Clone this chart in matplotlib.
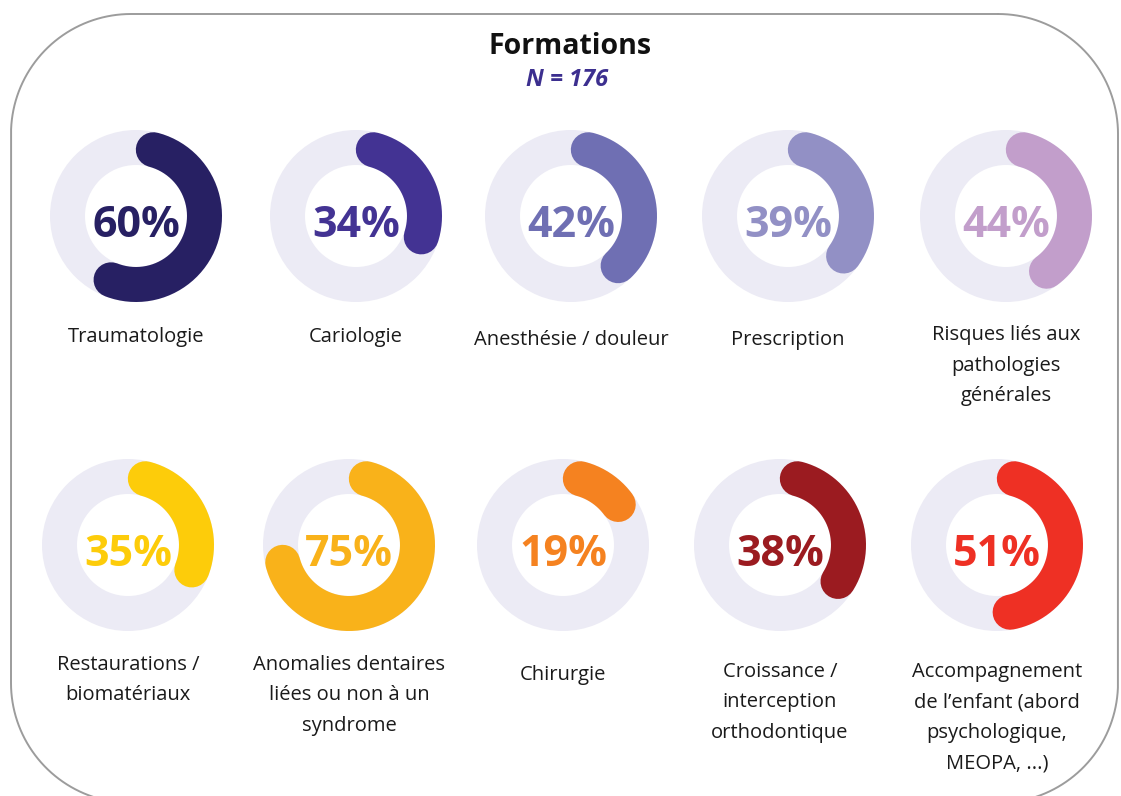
import numpy as np
import matplotlib.pyplot as plt
from matplotlib.patches import Wedge

plt.rcParams['font.family'] = ['Open Sans', 'DejaVu Sans']

# share of respondents per training topic
topics = [
    "Traumatologie",
    "Cariologie",
    "Anesthésie / douleur",
    "Prescription",
    "Risques liés aux\npathologies\ngénérales",
    "Restaurations /\nbiomatériaux",
    "Anomalies dentaires\nliées ou non à un\nsyndrome",
    "Chirurgie",
    "Croissance /\ninterception\northodontique",
    "Accompagnement\nde l’enfant (abord\npsychologique,\nMEOPA, ...)",
]
percents = [60, 34, 42, 39, 44, 35, 75, 19, 38, 51]
colors = ['#272063', '#433393', '#6f6fb3', '#9290c5', '#c29ecb',
          '#fdcc0a', '#f9b21a', '#f58220', '#9b1b20', '#ee3024']
n_total = 176

# layout (pixels, y from top)
cx = [136, 356, 571, 788, 1006, 128, 349, 563, 780, 997]
cy = [216] * 5 + [545] * 5
label_y = [337, 337, 340, 340, 335, 665, 665, 675, 672, 672]
R_OUT, RING = 86, 35
LINE_H = 30.5
ring_bg = '#ecebf5'

W, H = 1121, 796
fig = plt.figure(figsize=(W / 100, H / 100), dpi=100)
ax = fig.add_axes([0, 0, 1, 1])
ax.set_xlim(0, W)
ax.set_ylim(H, 0)
ax.axis('off')


def rounded_frame(x0, y0, x1, y1, r, n=40):
    # corner centres and their angle ranges (y grows downward)
    corners = [((x1 - r, y0 + r), -90, 0), ((x1 - r, y1 - r), 0, 90),
               ((x0 + r, y1 - r), 90, 180), ((x0 + r, y0 + r), 180, 270)]
    xs, ys = [], []
    for (ccx, ccy), a0, a1 in corners:
        a = np.radians(np.linspace(a0, a1, n))
        xs.extend(ccx + r * np.cos(a))
        ys.extend(ccy + r * np.sin(a))
    xs.append(xs[0])
    ys.append(ys[0])
    return xs, ys


fx, fy = rounded_frame(11, 14, 1118, 803, 120)
ax.plot(fx, fy, color='#9c9c9c', lw=1.4)

ax.text(570, 46, "Formations", ha='center', va='center', fontsize=20.5,
        fontweight='bold', color='#111111')
ax.text(567, 80, f"N = {n_total}", ha='center', va='center', fontsize=17,
        fontweight='bold', style='italic', color='#3c2f8f')

r_mid = R_OUT - RING / 2
cap = np.degrees((RING / 2) / r_mid)
lw_pt = RING * 72 / 100

for i, (topic, pct, col) in enumerate(zip(topics, percents, colors)):
    x0, y0 = cx[i], cy[i]
    ax.add_patch(Wedge((x0, y0), R_OUT, 0, 360, width=RING, color=ring_bg, lw=0))
    # arc runs clockwise from 12 o'clock, round caps included in its extent
    t = np.radians(np.linspace(cap, pct * 3.6 - cap, 200))
    ax.plot(x0 + r_mid * np.sin(t), y0 - r_mid * np.cos(t), color=col,
            lw=lw_pt, solid_capstyle='round')
    ax.text(x0, y0 + 21, f"{pct}%", ha='center', va='baseline', fontsize=31,
            fontweight='bold', color=col)
    for k, line in enumerate(topic.split('\n')):
        ax.text(x0, label_y[i] + k * LINE_H, line, ha='center', va='center',
                fontsize=14.5, color='#1a1a1a')

fig.savefig('out.png', dpi=100, facecolor='white')
